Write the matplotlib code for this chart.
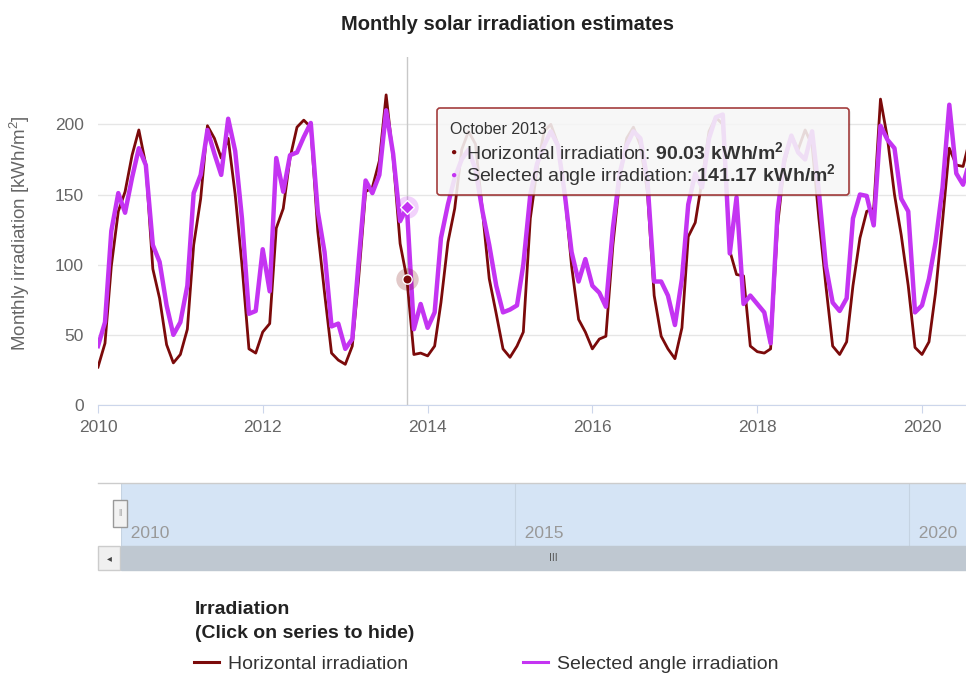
import pandas as pd
import matplotlib
matplotlib.use("Agg")
import matplotlib.pyplot as plt
import matplotlib.dates as mdates
from matplotlib.patches import FancyBboxPatch, Rectangle
from matplotlib.lines import Line2D
from matplotlib.transforms import IdentityTransform, blended_transform_factory

plt.rcParams['font.family'] = ['Liberation Sans', 'DejaVu Sans']
plt.rcParams['mathtext.fontset'] = 'custom'
plt.rcParams['mathtext.rm'] = 'Liberation Sans'
plt.rcParams['mathtext.bf'] = 'Liberation Sans:bold'

# monthly values, kWh/m2, Jan 2010 onwards
horizontal = [27, 44, 99, 138, 152, 178, 196, 171, 97, 76, 43, 30,
              36, 54, 114, 147, 199, 190, 176, 190, 150, 100, 40, 37,
              52, 58, 126, 140, 176, 198, 203, 198, 124, 80, 37, 32,
              29, 42, 90, 152, 155, 174, 221, 176, 115, 90.03, 36, 37,
              35, 42, 73, 116, 140, 182, 195, 186, 138, 90, 65, 40,
              34, 42, 52, 133, 168, 195, 200, 186, 150, 99, 61, 52,
              40, 47, 49, 114, 160, 190, 198, 185, 152, 78, 49, 40,
              33, 55, 120, 130, 160, 195, 205, 200, 110, 93, 92, 42,
              38, 37, 40, 128, 172, 192, 182, 196, 185, 133, 85, 42,
              36, 45, 85, 119, 138, 140, 218, 190, 150, 121, 85, 41,
              36, 45, 80, 131, 183, 171, 170, 190]
selected = [42, 59, 124, 151, 137, 162, 183, 171, 114, 102, 71, 50,
            59, 85, 151, 164, 196, 179, 164, 204, 181, 133, 65, 67,
            111, 81, 176, 152, 178, 180, 191, 201, 138, 109, 56, 58,
            40, 47, 102, 160, 151, 164, 210, 179, 131, 141.17, 54, 72,
            55, 66, 119, 143, 162, 175, 182, 168, 138, 114, 85, 66,
            68, 71, 100, 150, 172, 185, 195, 185, 150, 109, 88, 104,
            85, 80, 70, 126, 165, 185, 195, 190, 160, 88, 88, 78,
            57, 90, 143, 165, 155, 190, 205, 207, 108, 148, 72, 78,
            72, 66, 44, 138, 175, 192, 180, 175, 195, 152, 99, 73,
            67, 76, 133, 150, 149, 128, 199, 189, 183, 147, 138, 66,
            71, 90, 116, 155, 214, 165, 157, 175]
months = pd.date_range("2010-01-01", periods=len(horizontal), freq="MS")

hover_month = pd.Timestamp("2013-10-01")
y_ticks = [0, 50, 100, 150, 200]
view_start, view_end = pd.Timestamp("2010-01-01"), pd.Timestamp("2020-07-14")
nav_end = pd.Timestamp("2020-09-20")
nav_years = [2010, 2015, 2020]
legend_title = ["Irradiation", "(Click on series to hide)"]

RED = "#7b0a0a"
PURPLE = "#c434f2"
W, H = 966, 675

fig = plt.figure(figsize=(W / 100, H / 100), dpi=100)


def box(l, t, r, b):
    # pixel box (from top-left) -> figure fraction rect
    return [l / W, 1 - b / H, (r - l) / W, (b - t) / H]


def px(x, y):
    return x, H - y


fig.text(508 / W, 1 - 24 / H, "Monthly solar irradiation estimates",
         ha="center", va="center", fontsize=14.5, weight="bold", color="#222")

# main chart
ax = fig.add_axes(box(98, 57, 966, 405))
l1, = ax.plot(months, horizontal, color=RED, lw=2, zorder=3, label="Horizontal irradiation")
l2, = ax.plot(months, selected, color=PURPLE, lw=3.2, zorder=4, label="Selected angle irradiation")
ax.set_xlim(view_start, view_end)
ax.set_ylim(0, 248)
ax.set_yticks(y_ticks)
ax.xaxis.set_major_locator(mdates.YearLocator(2))
ax.xaxis.set_major_formatter(mdates.DateFormatter("%Y"))
ax.grid(axis="y", color="#e6e6e6", lw=1, zorder=0)
for s in ["top", "right", "left"]:
    ax.spines[s].set_visible(False)
ax.spines["bottom"].set_color("#ccd6eb")
ax.tick_params(axis="y", length=0, pad=10, labelsize=12.5, labelcolor="#666")
ax.tick_params(axis="x", length=6, color="#ccd6eb", pad=5, labelsize=12.5, labelcolor="#666")
fig.text(20 / W, 1 - 233 / H, "Monthly irradiation [kWh/m$^2$]", rotation=90,
         ha="center", va="center", fontsize=13.5, color="#666")

# hovered point: crosshair + halos
idx = months.get_loc(hover_month)
ax.axvline(months[idx], color="#c8c8c8", lw=1, zorder=2)
ax.scatter(months[idx], horizontal[idx], s=260, color=RED, alpha=0.22, lw=0, zorder=5)
ax.scatter(months[idx], horizontal[idx], s=45, color=RED, edgecolor="white", lw=1, zorder=6)
ax.scatter(months[idx], selected[idx], s=260, color=PURPLE, alpha=0.22, lw=0, zorder=5)
ax.scatter(months[idx], selected[idx], s=50, marker="D", color=PURPLE, edgecolor="white", lw=1, zorder=6)

# tooltip
ident = IdentityTransform()
shadow = FancyBboxPatch(px(439, 197), 412, 87, boxstyle="round,pad=0,rounding_size=3",
                        transform=ident, facecolor="#000000", alpha=0.08, lw=0, zorder=9)
tip = FancyBboxPatch(px(437, 195), 412, 87, boxstyle="round,pad=0,rounding_size=3",
                     transform=ident, facecolor="#f9f9f9", alpha=0.87,
                     edgecolor="#962020", lw=1.2, zorder=10)
fig.add_artist(shadow)
fig.add_artist(tip)
fig.text(450 / W, 1 - 129 / H, hover_month.strftime("%B %Y"), fontsize=11.5,
         color="#333", va="center", zorder=11)
for row, (name, vals, col) in enumerate([("Horizontal irradiation", horizontal, RED),
                                          ("Selected angle irradiation", selected, PURPLE)]):
    yy = 1 - (152 + 23 * row) / H
    fig.text(450 / W, yy, "\u25cf", fontsize=7.5, color=col, va="center", zorder=11)
    fig.text(466 / W, yy, name + ": " + r"$\mathbf{%.2f\ kWh/m^2}$" % vals[idx],
             fontsize=14, color="#333", va="center", zorder=11)

# navigator
fig.add_artist(Line2D([98 / W, 1], [1 - 483 / H, 1 - 483 / H], color="#cccccc", lw=1))
nav = fig.add_axes(box(121, 483, 966, 546))
nav.set_facecolor("#d5e4f5")
nav.set_xlim(pd.Timestamp("2010-01-01"), nav_end)
nav.set_ylim(0, 1)
nav.set_xticks([])
nav.set_yticks([])
for s in nav.spines.values():
    s.set_visible(False)
btr = blended_transform_factory(nav.transData, nav.transAxes)
for yr in nav_years:
    d = pd.Timestamp(f"{yr}-01-01")
    nav.axvline(d, color="#c5d3e2", lw=0.8)
    nav.text(d, 0.2, f"  {yr}", transform=btr, fontsize=12.5, color="#999", va="center", ha="left")
fig.add_artist(Rectangle(px(113, 527), 14, 27, transform=ident, facecolor="#f2f2f2",
                         edgecolor="#999999", lw=1, zorder=5))
fig.text(120 / W, 1 - 513 / H, "||", fontsize=6, color="#888", ha="center", va="center", zorder=6)

# scrollbar
fig.add_artist(Rectangle(px(98, 570), 22, 24, transform=ident, facecolor="#f0f0f0",
                         edgecolor="#cccccc", lw=1))
fig.add_artist(Rectangle(px(121, 570), 850, 24, transform=ident, facecolor="#bfc8d1",
                         edgecolor="#bfc8d1", lw=1))
fig.text(109 / W, 1 - 558 / H, "\u25c2", fontsize=7, color="#444", ha="center", va="center",
         family=["DejaVu Sans"])
fig.text(553 / W, 1 - 558 / H, "III", fontsize=7.5, color="#555", ha="center", va="center")

# legend
for k, line in enumerate(legend_title):
    fig.text(195 / W, 1 - (609 + 25 * k) / H, line, fontsize=14, weight="bold",
             color="#222", va="center", ha="left")
leg = fig.legend(handles=[l1, l2], loc="center left", bbox_to_anchor=(194 / W, 1 - 664 / H),
                 ncol=2, frameon=False, fontsize=14, labelcolor="#333",
                 handlelength=1.3, handletextpad=0.46,
                 columnspacing=5.9, borderpad=0, borderaxespad=0)
for h in leg.legend_handles:
    h.set_linewidth(2.2)

fig.savefig("out.png", dpi=100)
